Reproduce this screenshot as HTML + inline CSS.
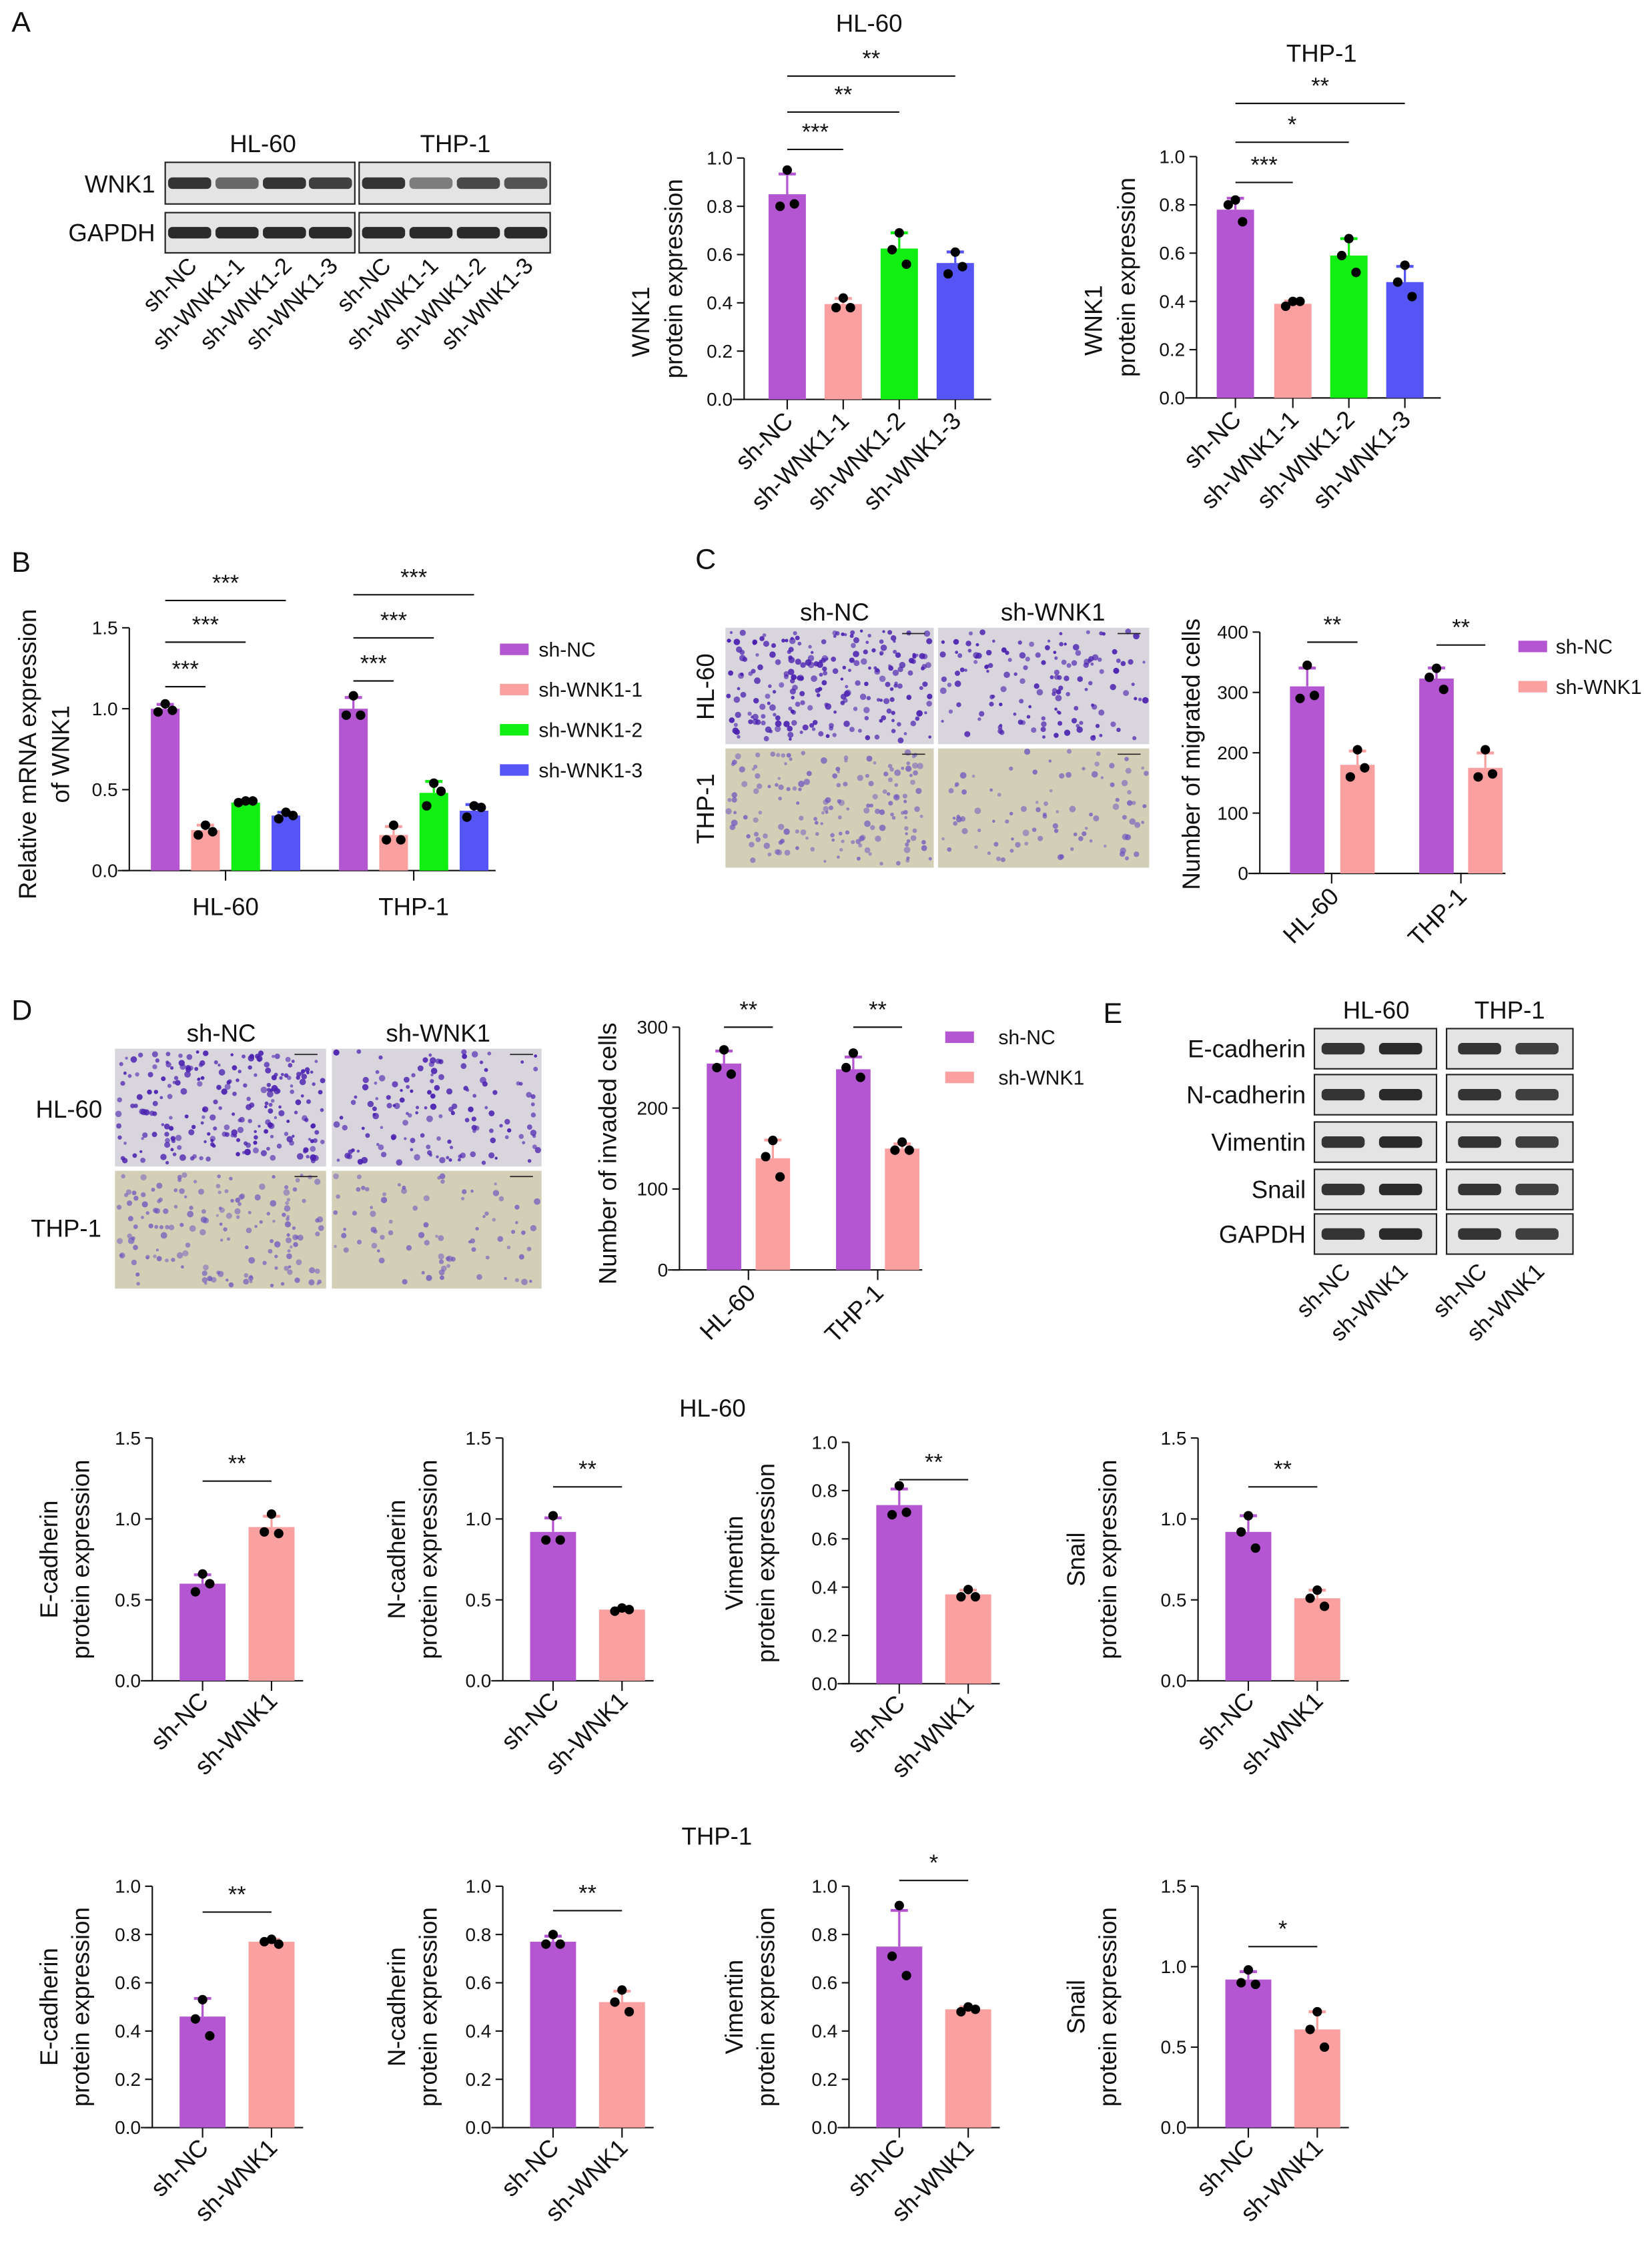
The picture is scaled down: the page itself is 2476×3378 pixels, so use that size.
<!DOCTYPE html>
<html><head><meta charset="utf-8"><style>
html,body{margin:0;padding:0;background:#fff;}
svg{display:block;font-family:"Liberation Sans",Arial,sans-serif;}
</style></head><body>
<svg id="fig" width="2476" height="3378" viewBox="0 0 1150 1569" xmlns="http://www.w3.org/2000/svg">
<rect width="1150" height="1569" fill="#fff"/>
</svg>
<script>
const PURPLE='#B455D2', PINK='#FAA0A0', GREEN='#11EE11', BLUE='#5555F5';
const colors4=[PURPLE,PINK,GREEN,BLUE];
const colors2=[PURPLE,PINK];
// Panel A
const aCats=['sh-NC','sh-WNK1-1','sh-WNK1-2','sh-WNK1-3'];
const aHLvals=[0.85,0.395,0.625,0.565];
const aHLpts=[[0.95,0.80,0.81],[0.42,0.38,0.38],[0.69,0.62,0.56],[0.61,0.52,0.55]];
const aTHPvals=[0.78,0.39,0.59,0.48];
const aTHPpts=[[0.82,0.80,0.73],[0.40,0.38,0.40],[0.66,0.59,0.52],[0.55,0.48,0.42]];
const aTicks=[0,0.2,0.4,0.6,0.8,1.0];
// Panel B
const bGroups=['HL-60','THP-1'];
const bHLvals=[1.0,0.25,0.42,0.34];
const bHLpts=[[1.03,0.98,0.99],[0.28,0.22,0.24],[0.43,0.42,0.43],[0.36,0.32,0.34]];
const bTHPvals=[1.0,0.22,0.48,0.37];
const bTHPpts=[[1.08,0.96,0.96],[0.28,0.19,0.19],[0.54,0.40,0.49],[0.40,0.33,0.39]];
const bTicks=[0,0.5,1.0,1.5];
// Panel C
const cVals=[[310,180],[323,175]];
const cPts=[[[345,290,295],[205,160,175]],[[340,325,305],[205,160,165]]];
const cTicks=[0,100,200,300,400];
// Panel D
const dVals=[[255,138],[248,150]];
const dPts=[[[272,250,242],[160,140,115]],[[268,250,238],[158,148,148]]];
const dTicks=[0,100,200,300];
// Bottom rows
const eCats=['sh-NC','sh-WNK1'];
const eHLvals=[[0.60,0.95],[0.92,0.44],[0.74,0.37],[0.92,0.51]];
const eHLpts=[[[0.66,0.55,0.60],[1.03,0.92,0.91]],[[1.02,0.87,0.87],[0.45,0.43,0.44]],[[0.82,0.70,0.71],[0.39,0.36,0.36]],[[1.02,0.92,0.82],[0.56,0.51,0.46]]];
const eTHPvals=[[0.46,0.77],[0.77,0.52],[0.75,0.49],[0.92,0.61]];
const eTHPpts=[[[0.53,0.45,0.38],[0.78,0.77,0.76]],[[0.80,0.76,0.76],[0.57,0.52,0.48]],[[0.92,0.71,0.63],[0.50,0.48,0.49]],[[0.98,0.90,0.89],[0.72,0.61,0.50]]];
const eTicks15=[0,0.5,1.0,1.5];
const eTicks10=[0,0.2,0.4,0.6,0.8,1.0];
const eLabels=['E-cadherin','N-cadherin','Vimentin','Snail'];

const NS='http://www.w3.org/2000/svg';
const svg=document.getElementById('fig');
function mk(tag,attrs,parent,name,inter){
  const e=document.createElementNS(NS,tag);
  for(const k in attrs)e.setAttribute(k,attrs[k]);
  
  
  (parent||svg).appendChild(e);return e;
}
function txt(x,y,s,size,opt,name,parent){
  opt=opt||{};
  const a={x:x,y:y,'font-size':size,'text-anchor':opt.anchor||'middle',fill:'#111'};
  if(opt.rot!==undefined)a.transform='rotate('+opt.rot+' '+x+' '+y+')';
  const t=mk('text',a,parent,name);t.textContent=s;return t;
}
function line(x1,y1,x2,y2,name,parent,col,w){return mk('line',{x1:x1,y1:y1,x2:x2,y2:y2,stroke:col||'#111','stroke-width':w||1},parent,name);}
function mean(a){return a.reduce((s,v)=>s+v,0)/a.length;}
function sd(a){const m=mean(a);return Math.sqrt(a.reduce((s,v)=>s+(v-m)*(v-m),0)/(a.length-1));}

function chart(o){
  const g=mk('g',{},svg,o.name);
  const ys=v=>o.y0-(v/o.max)*(o.y0-o.ytop);
  line(o.ax,o.y0,o.ax,ys(o.ticks[o.ticks.length-1]),'y-axis',g);
  line(o.ax-8,o.y0,o.xEnd,o.y0,'x-axis',g);
  o.ticks.forEach(t=>{
    const y=ys(t);
    line(o.ax-5,y,o.ax,y,'y-tick',g);
    txt(o.ax-8,y+4.5,o.fmt(t),13,{anchor:'end'},'y-tick-label',g);
  });
  o.bars.forEach((b,i)=>{
    const top=ys(b.v);
    mk('rect',{x:b.c-o.bw/2,y:top,width:o.bw,height:o.y0-top,fill:b.col},g,'bar-'+i);
    const e=ys(b.v+sd(b.pts));
    line(b.c,top,b.c,e,'error-bar',g,b.col,1.5);
    line(b.c-6,e,b.c+6,e,'error-cap',g,b.col,2);
    b.pts.forEach((p,k)=>{
      mk('circle',{cx:b.c+(k===0?0:(k===1?-5:5)),cy:ys(p),r:3.3,fill:'#000'},g,'data-point');
    });
  });
  (o.xticks||[]).forEach(x=>line(x,o.y0,x,o.y0+7,'x-tick',g));
  (o.xlabels||[]).forEach(l=>txt(l.x,l.y,l.s,l.size||16,{anchor:'end',rot:-45},'x-tick-label',g));
  (o.sig||[]).forEach(s=>{
    line(s.x1,s.y,s.x2,s.y,'significance-line',g);
    txt((s.x1+s.x2)/2,s.y-7,s.t,16,{},'significance-stars',g);
  });
  (o.ylab||[]).forEach(l=>txt(l.x,l.y,l.s,17,{rot:-90},'y-axis-title',g));
  return g;
}
const fmt1=t=>t.toFixed(1), fmt0=t=>String(t);

[['A',8,22],['B',8,398],['C',484,396],['D',8,710],['E',768,712]].forEach(p=>txt(p[1],p[2],p[0],20,{anchor:'start'},'panel-label-'+p[0].toLowerCase()));

function blot(x,y,w,h,lanes,intens,name){
  const g=mk('g',{},svg,name);
  mk('rect',{x:x,y:y,width:w,height:h,fill:'#e4e4e4',stroke:'#222','stroke-width':1},g,'blot-frame');
  lanes.forEach((lx,i)=>{
    mk('rect',{x:lx-15,y:y+h/2-4,width:30,height:8,rx:3,fill:'#151515','fill-opacity':intens[i]},g,'band');
  });
  return g;
}
const aL1=[132,165,198,230], aL2=[267,300,333,366];
blot(115,113,132,29,aL1,[0.85,0.6,0.85,0.8],'blot-wnk1-hl60');
blot(250,113,133,29,aL2,[0.85,0.5,0.75,0.7],'blot-wnk1-thp1');
blot(115,148,132,28,aL1,[0.9,0.9,0.9,0.9],'blot-gapdh-hl60');
blot(250,148,133,28,aL2,[0.9,0.9,0.9,0.9],'blot-gapdh-thp1');
txt(183,106,'HL-60',17,{},'blot-header-hl60');
txt(317,106,'THP-1',17,{},'blot-header-thp1');
txt(108,134,'WNK1',17,{anchor:'end'},'blot-row-label');
txt(108,168,'GAPDH',17,{anchor:'end'},'blot-row-label');
aCats.forEach((c,i)=>{txt(aL1[i]+6,186,c,16,{anchor:'end',rot:-45},'blot-lane-label');txt(aL2[i]+6,186,c,16,{anchor:'end',rot:-45},'blot-lane-label');});

function aChart(ax,y0,ytop,centers,vals,pts,sig,ylx,title,tx,ty,name){
  txt(tx,ty,title,17,{},'chart-title');
  chart({name:name,ax:ax,y0:y0,ytop:ytop,max:1.0,ticks:aTicks,fmt:fmt1,bw:26,xEnd:centers[3]+25,
    bars:centers.map((c,i)=>({c:c,v:vals[i],pts:pts[i],col:colors4[i]})),
    xticks:centers,
    xlabels:centers.map((c,i)=>({x:c+5,y:y0+16,s:aCats[i],size:17})),
    sig:sig,
    ylab:[{x:ylx,y:(y0+ytop)/2+30,s:'WNK1'},{x:ylx+23,y:(y0+ytop)/2,s:'protein expression'}]});
}
const aHLc=[548,587,626,665];
aChart(518,278,110,aHLc,aHLvals,aHLpts,[{x1:548,x2:587,y:104,t:'***'},{x1:548,x2:626,y:78,t:'**'},{x1:548,x2:665,y:53,t:'**'}],452,'HL-60',605,22,'chart-a-hl60');
const aTc=[860,900,939,978];
aChart(833,277,109,aTc,aTHPvals,aTHPpts,[{x1:860,x2:900,y:127,t:'***'},{x1:860,x2:939,y:99,t:'*'},{x1:860,x2:978,y:72,t:'**'}],767,'THP-1',920,43,'chart-a-thp1');

(function(){
  const hl=[115,143,171,199], th=[246,274,302,330];
  const bars=[];
  hl.forEach((c,i)=>bars.push({c:c,v:bHLvals[i],pts:bHLpts[i],col:colors4[i]}));
  th.forEach((c,i)=>bars.push({c:c,v:bTHPvals[i],pts:bTHPpts[i],col:colors4[i]}));
  chart({name:'chart-b',ax:90,y0:606,ytop:437,max:1.5,ticks:bTicks,fmt:fmt1,bw:20,xEnd:345,bars:bars,
    xticks:[157,288],
    sig:[{x1:115,x2:143,y:478,t:'***'},{x1:115,x2:171,y:447,t:'***'},{x1:115,x2:199,y:418,t:'***'},
         {x1:246,x2:274,y:474,t:'***'},{x1:246,x2:302,y:444,t:'***'},{x1:246,x2:330,y:414,t:'***'}],
    ylab:[{x:25,y:525,s:'Relative mRNA expression'},{x:48,y:525,s:'of WNK1'}]});
  bGroups.forEach((gname,i)=>txt([157,288][i],637,gname,17,{},'x-group-label'));
  aCats.forEach((c,i)=>{
    const y=[452,480,508,536][i];
    mk('rect',{x:348,y:y-4,width:20,height:8,fill:colors4[i]},svg,'legend-swatch');
    txt(375,y+5,c,14,{anchor:'start'},'legend-entry');
  });
})();

function micro(x,y,w,h,bg,dens,dot,op,name,seed){
  const g=mk('g',{},svg,name);
  mk('rect',{x:x,y:y,width:w,height:h,fill:bg},g,'micrograph-bg');
  let s=seed;const r=()=>{s=(s*9301+49297)%233280;return s/233280;};
  for(let i=0;i<dens;i++){
    mk('circle',{cx:x+2+r()*(w-4),cy:y+2+r()*(h-4),r:1.0+r()*1.3,fill:dot,'fill-opacity':op*(0.6+r()*0.4)},g,'cell');
  }
  line(x+w-22,y+4,x+w-6,y+4,'scale-bar',g,'#222',0.8);
}
micro(505,437,145,81,'#d8d6dc',230,'#4a1fb0',0.95,'micrograph-c-hl60-shnc',11);
micro(653,437,147,81,'#d8d6dc',140,'#4a1fb0',0.95,'micrograph-c-hl60-shwnk1',23);
micro(505,521,145,83,'#d3cfb6',160,'#6650c0',0.75,'micrograph-c-thp1-shnc',37);
micro(653,521,147,83,'#d3cfb6',90,'#6650c0',0.75,'micrograph-c-thp1-shwnk1',51);
txt(581,432,'sh-NC',17,{},'micrograph-header');
txt(733,432,'sh-WNK1',17,{},'micrograph-header');
txt(497,478,'HL-60',17,{rot:-90},'micrograph-row-label');
txt(497,563,'THP-1',17,{rot:-90},'micrograph-row-label');

micro(80,730,147,82,'#d8d6dc',230,'#4a1fb0',0.95,'micrograph-d-hl60-shnc',71);
micro(231,730,146,82,'#d8d6dc',140,'#4a1fb0',0.95,'micrograph-d-hl60-shwnk1',83);
micro(80,815,147,82,'#d3cfb6',160,'#6650c0',0.75,'micrograph-d-thp1-shnc',97);
micro(231,815,146,82,'#d3cfb6',80,'#6650c0',0.75,'micrograph-d-thp1-shwnk1',109);
txt(154,725,'sh-NC',17,{},'micrograph-header');
txt(305,725,'sh-WNK1',17,{},'micrograph-header');
txt(48,778,'HL-60',17,{},'micrograph-row-label');
txt(46,861,'THP-1',17,{},'micrograph-row-label');

(function(){
  const c=[[910,945],[1000,1034]];
  const bars=[];
  c.forEach((g,gi)=>g.forEach((x,i)=>bars.push({c:x,v:cVals[gi][i],pts:cPts[gi][i],col:colors2[i]})));
  chart({name:'chart-c',ax:877,y0:608,ytop:440,max:400,ticks:cTicks,fmt:fmt0,bw:24,xEnd:1048,bars:bars,
    xticks:[927,1017],
    xlabels:[{x:933,y:625,s:'HL-60',size:17},{x:1022,y:625,s:'THP-1',size:17}],
    sig:[{x1:910,x2:945,y:447,t:'**'},{x1:1000,x2:1034,y:449,t:'**'}],
    ylab:[{x:835,y:525,s:'Number of migrated cells'}]});
  eCats.forEach((n,i)=>{const y=[450,478][i];
    mk('rect',{x:1057,y:y-4,width:20,height:8,fill:colors2[i]},svg,'legend-swatch');
    txt(1083,y+5,n,14,{anchor:'start'},'legend-entry');});
})();

(function(){
  const c=[[504,538],[594,628]];
  const bars=[];
  c.forEach((g,gi)=>g.forEach((x,i)=>bars.push({c:x,v:dVals[gi][i],pts:dPts[gi][i],col:colors2[i]})));
  chart({name:'chart-d',ax:473,y0:884,ytop:715,max:300,ticks:dTicks,fmt:fmt0,bw:24,xEnd:642,bars:bars,
    xticks:[521,611],
    xlabels:[{x:527,y:901,s:'HL-60',size:17},{x:616,y:901,s:'THP-1',size:17}],
    sig:[{x1:504,x2:538,y:715,t:'**'},{x1:594,x2:628,y:715,t:'**'}],
    ylab:[{x:429,y:803,s:'Number of invaded cells'}]});
  eCats.forEach((n,i)=>{const y=[722,750][i];
    mk('rect',{x:658,y:y-4,width:20,height:8,fill:colors2[i]},svg,'legend-swatch');
    txt(695,y+5,n,14,{anchor:'start'},'legend-entry');});
})();

(function(){
  const rows=[[716,744,'E-cadherin'],[748,776,'N-cadherin'],[781,809,'Vimentin'],[814,842,'Snail'],[845,873,'GAPDH']];
  rows.forEach(r=>{
    blot(915,r[0],85,r[1]-r[0],[935,975],[0.85,0.9],'blot-e-hl60');
    blot(1007,r[0],88,r[1]-r[0],[1030,1070],[0.85,0.8],'blot-e-thp1');
    txt(909,(r[0]+r[1])/2+6,r[2],17,{anchor:'end'},'blot-row-label');
  });
  txt(958,709,'HL-60',17,{},'blot-header-hl60');
  txt(1051,709,'THP-1',17,{},'blot-header-thp1');
  [935,975,1030,1070].forEach((x,i)=>txt(x+6,886,eCats[i%2],16,{anchor:'end',rot:-45},'blot-lane-label'));
})();

function smallChart(ax,y0,ytop,max,ticks,vals,pts,sigY,sigT,ylx,lab,name){
  const c=[ax+35,ax+83];
  chart({name:name,ax:ax,y0:y0,ytop:ytop,max:max,ticks:ticks,fmt:fmt1,bw:32,xEnd:ax+105,
    bars:c.map((x,i)=>({c:x,v:vals[i],pts:pts[i],col:colors2[i]})),
    xticks:c,
    xlabels:c.map((x,i)=>({x:x+5,y:y0+15,s:eCats[i],size:17})),
    sig:[{x1:c[0],x2:c[1],y:sigY,t:sigT}],
    ylab:[{x:ylx,y:(y0+ytop)/2,s:lab},{x:ylx+22,y:(y0+ytop)/2,s:'protein expression'}]});
}
txt(496,986,'HL-60',17,{},'row-title-hl60');
const r1ax=[106,350,591,834];
const r1ylx=[40,282,517,755];
const r1sig=[1031,1035,1030,1035];
r1ax.forEach((ax,i)=>{
  const is10=(i===2);
  smallChart(ax,is10?1172:1170,is10?1004:1001,is10?1.0:1.5,is10?eTicks10:eTicks15,eHLvals[i],eHLpts[i],r1sig[i],'**',r1ylx[i],eLabels[i],'chart-hl60-'+i);
});
txt(499,1284,'THP-1',17,{},'row-title-thp1');
const r2sig=[1331,1330,1309,1355];
const r2sigT=['**','**','*','*'];
r1ax.forEach((ax,i)=>{
  const is15=(i===3);
  smallChart(ax,1481,1313,is15?1.5:1.0,is15?eTicks15:eTicks10,eTHPvals[i],eTHPpts[i],r2sig[i],r2sigT[i],r1ylx[i],eLabels[i],'chart-thp1-'+i);
});
</script>
</body></html>
